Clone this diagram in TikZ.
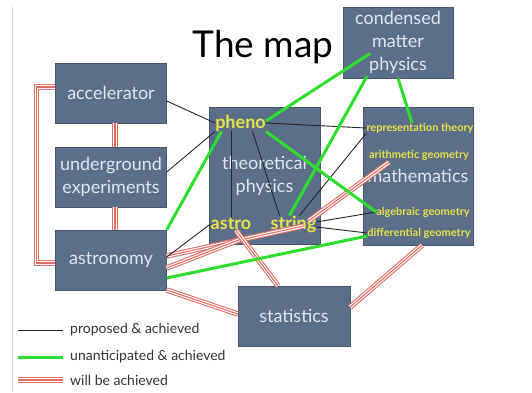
\documentclass[tikz,border=0pt]{standalone}
\usepackage{fontspec}
\setmainfont{Lato}
\usetikzlibrary{calc}

\definecolor{boxblue}{RGB}{91,110,138}
\definecolor{boxedge}{RGB}{70,86,110}
\definecolor{boxtext}{RGB}{228,230,236}
\definecolor{labyellow}{RGB}{232,228,70}
\definecolor{achgreen}{RGB}{45,222,45}
\definecolor{willred}{RGB}{226,112,100}

\tikzset{
  field/.style={draw=boxedge,fill=boxblue,text=boxtext,align=center,
    inner sep=0pt,font=\fontsize{18}{23}\selectfont},
  topic/.style={text=labyellow,inner sep=0pt,font=\fontsize{18}{21}\selectfont\bfseries},
  subfield/.style={text=labyellow,inner sep=0pt,font=\fontsize{11}{12}\selectfont\bfseries},
  legend/.style={anchor=west,text=black!80,inner sep=0pt,font=\fontsize{14}{16}\selectfont},
  proposed/.style={draw=black!85,line width=0.9pt},
  unanticipated/.style={draw=achgreen,line width=3pt},
  willbe/.style={draw=willred,line width=5.5pt,
    postaction={draw=white,line width=3.3pt},
    postaction={draw=willred,line width=1.1pt}},
}

\begin{document}
\begin{tikzpicture}[x=1pt,y=-1pt]
  \useasboundingbox[fill=white] (0,0) rectangle (532,392);
  \draw[black!15] (12,7) -- (12,392);

  \node[anchor=base,font=\fontsize{37}{37}\selectfont] (title) at (263,57) {The map};

  % fields
  \node[field,minimum width=111pt,minimum height=60pt] (acc) at (111,93) {accelerator};
  \node[field,minimum width=111pt,minimum height=60pt] (under) at (111,177) {underground\\experiments};
  \node[field,minimum width=111pt,minimum height=60pt] (astronomy) at (111,260) {astronomy};
  \node[field,minimum width=111pt,minimum height=137pt] (theo) at (264.5,175.5) {theoretical\\physics};
  \node[field,minimum width=110pt,minimum height=71pt] (cmp) at (398,42.5) {condensed\\matter\\physics};
  \node[field,minimum width=110pt,minimum height=138pt] (math) at (418,176) {mathematics};
  \node[field,minimum width=112pt,minimum height=60pt] (stats) at (294,316) {statistics};

  % sub-topics
  \node[topic] (pheno) at (240.5,123) {pheno};
  \node[topic] (astro) at (231,224) {astro};
  \node[topic] (string) at (293.5,224) {string};
  \node[subfield] (rep) at (420,128) {representation theory};
  \node[subfield] (arith) at (419,155) {arithmetic geometry};
  \node[subfield] (alg) at (423,212) {algebraic geometry};
  \node[subfield] (diff) at (419,233) {differential geometry};

  % will be achieved
  \draw[willbe] ($(acc.south)+(4,0)$) -- ($(under.north)+(4,0)$);
  \draw[willbe] ($(under.south)+(4,0)$) -- ($(astronomy.north)+(4,0)$);
  \draw[willbe] ($(acc.west)+(0,-6)$) -- ++(-19,0) |- ($(astronomy.west)+(0,3)$);
  \draw[willbe] ($(astronomy.east)+(0,-4)$) -- ($(string.center)+(10,2)$);
  \draw[willbe] ($(astronomy.east)+(0,8)$) -- ($(astro.south)+(12,8)$);
  \draw[willbe] ($(astro.south)+(5,0)$) -- ($(stats.north)+(-16,0)$);
  \draw[willbe] ($(string.east)+(-8,-3)$) -- ($(arith.south west)+(20,2)$);
  \draw[willbe] ($(astronomy.east)+(0,30)$) -- ($(stats.west)+(0,-2)$);
  \draw[willbe] ($(stats.east)+(0,-9)$) -- ($(math.south)+(4,0)$);

  % proposed & achieved
  \draw[proposed] ($(acc.east)+(0,8)$) -- (pheno.west);
  \draw[proposed] ($(under.east)+(0,-5)$) -- (pheno.south west);
  \draw[proposed] ($(astronomy.east)+(0,-3)$) -- (astro.west);
  \draw[proposed] (pheno.east) -- (rep.west);
  \draw[proposed] (astro.north |- pheno.south) -- (astro.north);
  \draw[proposed] ($(pheno.south)+(12,0)$) -- ($(string.north)+(-14,0)$);
  \draw[proposed] ($(string.north)+(6,0)$) -- (rep.south west);
  \draw[proposed] ($(string.east)+(0,-2)$) -- (alg.west);
  \draw[proposed] ($(string.east)+(0,3)$) -- (diff.west);

  % unanticipated & achieved
  \draw[unanticipated] ($(cmp.center)+(-28,11)$) -- ($(pheno.east)+(0,-2)$);
  \draw[unanticipated] ($(cmp.south)+(-31,-2)$) -- ($(string.north)+(-4,0)$);
  \draw[unanticipated] (cmp.south) -- ($(rep.north)+(-8,0)$);
  \draw[unanticipated] ($(pheno.south)+(-19,0)$) -- (astronomy.north east);
  \draw[unanticipated] (pheno.south east) -- (alg.west);
  \draw[unanticipated] ($(astronomy.east)+(0,18)$) -- ($(diff.west)+(0,3)$);

  % legend
  \coordinate (k1) at (18,330);
  \coordinate (k2) at (18,357);
  \coordinate (k3) at (18,380);
  \node[legend] (leg1) at (70,330) {proposed \& achieved};
  \node[legend] (leg2) at (70,357) {unanticipated \& achieved};
  \node[legend] (leg3) at (70,380) {will be achieved};
  \draw[proposed] (k1) -- ($(leg1.west)+(-7,0)$);
  \draw[unanticipated] (k2) -- ($(leg2.west)+(-7,0)$);
  \draw[willbe] (k3) -- ($(leg3.west)+(-7,0)$);
\end{tikzpicture}
\end{document}
